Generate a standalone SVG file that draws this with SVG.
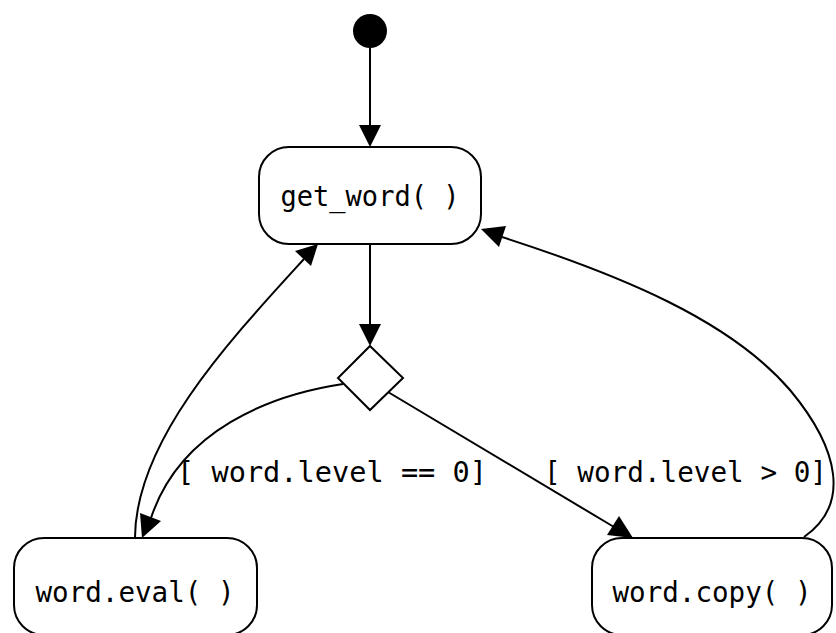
<svg xmlns="http://www.w3.org/2000/svg" width="836" height="633" viewBox="0 0 836 633">
<style>
.node{fill:#fff;stroke:#000;stroke-width:2}
.lbl{font-family:"DejaVu Sans Mono",monospace;font-size:29px;fill:#000}
.edge{fill:none;stroke:#000;stroke-width:2}
</style>
<rect width="836" height="633" fill="#fff"/>
<g id="start"><circle cx="370" cy="31" r="17" fill="#000"/></g>
<g id="get_word"><rect class="node" x="259" y="147" width="222" height="97" rx="30"/><text class="lbl" x="370" y="206" text-anchor="middle" textLength="179" lengthAdjust="spacingAndGlyphs">get_word( )</text></g>
<g id="decision"><polygon class="node" points="370,346 403,378 370,410 338,378"/></g>
<g id="word_eval"><rect class="node" x="14" y="538" width="243" height="97" rx="30"/><text class="lbl" x="135" y="602" text-anchor="middle" textLength="199" lengthAdjust="spacingAndGlyphs">word.eval( )</text></g>
<g id="word_copy"><rect class="node" x="592" y="538" width="240" height="97" rx="30"/><text class="lbl" x="712" y="602" text-anchor="middle" textLength="199" lengthAdjust="spacingAndGlyphs">word.copy( )</text></g>
<g id="edges">
<path class="edge" d="M370,48 L370,126"/><polygon points="359,125 381,125 370,147"/>
<path class="edge" d="M370,244 L370,325"/><polygon points="359,324 381,324 370,346"/>
<path class="edge" d="M343,384 C270,395 180,430 151,518"/><polygon points="140,513 161,521 142,538"/>
<path class="edge" d="M388,392 L614,527"/><polygon points="607,535 619,516 633,538"/>
<path class="edge" d="M135,537 C136,440 230,340 304,259"/><polygon points="295,251 311,266 318,244"/>
<path class="edge" d="M804,537 C850,505 840,450 790,390 C730,320 620,275 502,237"/><polygon points="506,226 499,247 481,229"/>
<text class="lbl" x="177" y="482" textLength="310" lengthAdjust="spacingAndGlyphs">[ word.level == 0]</text>
<text class="lbl" x="544" y="482" textLength="283" lengthAdjust="spacingAndGlyphs">[ word.level &gt; 0]</text>
</g>
</svg>
